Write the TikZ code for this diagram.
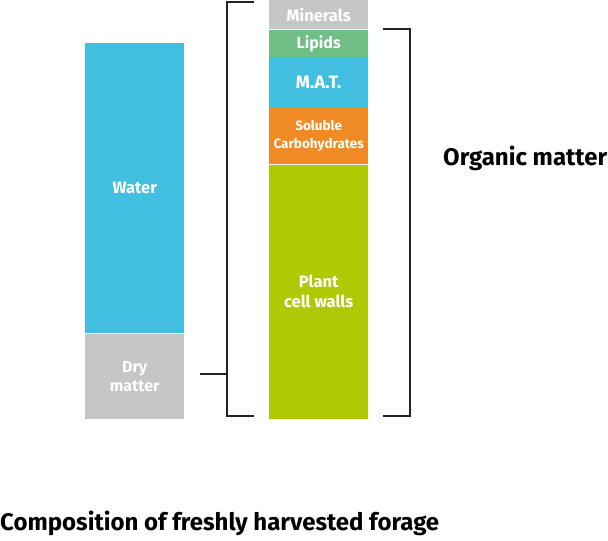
\documentclass[tikz,border=0pt]{standalone}
\usepackage{fontspec}
\setmainfont{Fira Sans}
\usetikzlibrary{positioning}
\definecolor{waterblue}{HTML}{42BFE0}
\definecolor{drygray}{HTML}{C6C6C6}
\definecolor{lipidgreen}{HTML}{6EBE85}
\definecolor{carborange}{HTML}{F08A24}
\definecolor{wallgreen}{HTML}{AFCA05}
\definecolor{bracketgray}{HTML}{222222}
\tikzset{
  block/.style={fill=#1, minimum width=99pt, inner sep=0pt, text=white, font=\bfseries, align=center},
  bracket/.style={line width=2pt, bracketgray}
}

\begin{document}
\begin{tikzpicture}[x=1pt,y=1pt]
            \useasboundingbox (0,0) rectangle (608,-541);
            % left column
            \node[block=waterblue, minimum height=290pt, anchor=north west, font=\bfseries\fontsize{16.5}{19}\selectfont] (water) at (85,-43) {Water};
            \node[block=drygray, minimum height=85pt, below=0pt of water, font=\bfseries\fontsize{16}{19}\selectfont] (dry) {Dry\\matter};
            % right column
            \node[block=drygray, minimum height=29pt, anchor=north west, font=\bfseries\fontsize{16.5}{19}\selectfont] (minerals) at (269,0) {Minerals};
            \node[block=lipidgreen, minimum height=28pt, below=0pt of minerals, font=\bfseries\fontsize{16}{19}\selectfont] (lipids) {Lipids};
            \node[block=waterblue, minimum height=49pt, below=0pt of lipids, font=\bfseries\fontsize{18}{20}\selectfont] (mat) {M.A.T.};
            \node[block=carborange, minimum height=57pt, below=0pt of mat, font=\bfseries\fontsize{13.5}{18}\selectfont] (soluble) {Soluble\\Carbohydrates};
            \node[block=wallgreen, minimum height=254pt, below=0pt of soluble, font=\bfseries\fontsize{16.5}{20}\selectfont] (walls) {Plant\\cell walls};
            % brackets
            \coordinate (dm) at (200,-374);
            \draw[bracket] (254,-2) -| (227,-416) -- (254,-416);
            \draw[bracket] (dm) -- (227,-374);
            \draw[bracket] (383,-29) -| (410,-416) -- (383,-416);
            \node[anchor=west, inner sep=0pt, font=\bfseries\fontsize{24}{26}\selectfont] (organic) at (443,-158) {Organic matter};
            \node[anchor=west, inner sep=0pt, font=\bfseries\fontsize{24}{26}\selectfont] (title) at (0,-523) {Composition of freshly harvested forage};
        \end{tikzpicture}
\end{document}
